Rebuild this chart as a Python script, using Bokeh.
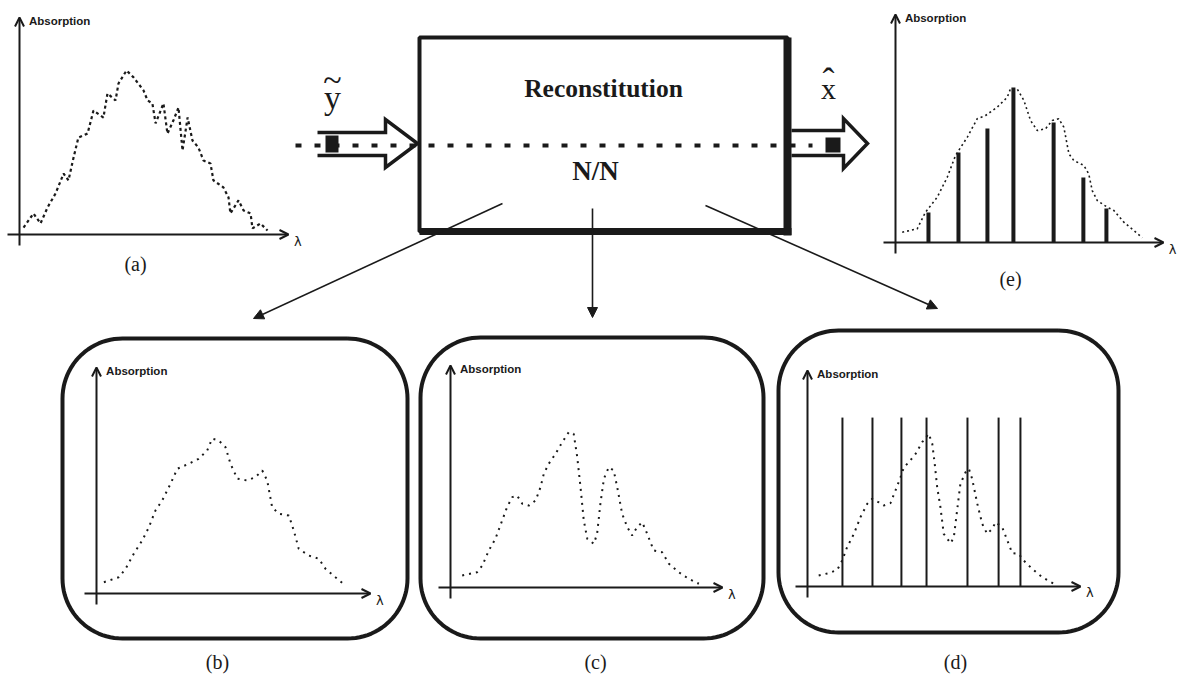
import numpy as np
from bokeh.plotting import figure
from bokeh.models import Range1d, Arrow, OpenHead, NormalHead
from bokeh.embed import file_html
from bokeh.resources import INLINE
from bokeh.core.properties import value

# ---------------- data (panel units: x 0..100 along lambda axis, y 0..100 absorption) -------------
a_x = [1.5, 5.2, 7.8, 10.4, 13.4, 16.4, 18.2, 20.1, 21.9, 25.3, 27.5, 31.2, 32.7, 35.7, 36.8, 39.8,
       42.4, 46.1, 47.6, 49.4, 50.6, 53.5, 55.0, 57.2, 59.1, 60.6, 62.5, 64.3, 66.5, 68.4, 71.0,
       72.1, 75.8, 77.7, 78.4, 81.4, 83.3, 85.9, 86.6, 89.6, 92.2]
a_y = [3.2, 9.7, 5.1, 12.4, 18.9, 28.1, 24.9, 35.5, 44.7, 46.5, 57.1, 53.9, 65.0, 61.8, 69.6, 75.6,
       72.4, 66.4, 61.8, 60.4, 51.2, 60.4, 46.5, 52.5, 58.5, 38.7, 53.9, 43.3, 40.1, 34.1, 32.7,
       24.9, 21.7, 17.1, 9.7, 15.7, 11.1, 9.7, 2.8, 5.1, 1.8]

b_x = [2.7, 8.1, 10.6, 13.6, 16.7, 19.1, 21.5, 24.0, 27.0, 29.5, 33.7, 37.3, 40.4, 42.2, 44.6, 47.1,
       48.9, 51.4, 55.0, 58.0, 60.5, 62.3, 64.1, 66.5, 70.2, 72.0, 73.8, 77.5, 81.1, 83.6, 87.2, 90.9]
b_y = [5.0, 7.2, 10.9, 17.6, 23.5, 29.3, 36.7, 41.2, 48.5, 55.2, 57.4, 59.6, 63.3, 68.5, 67.7, 64.7,
       57.4, 50.8, 50.0, 51.5, 54.4, 50.0, 38.2, 35.3, 34.5, 27.9, 19.8, 16.8, 15.4, 10.9, 7.2, 3.5]

c_x = [4.3, 9.8, 11.7, 14.1, 16.5, 19.0, 20.8, 22.7, 24.5, 26.4, 28.8, 31.3, 33.1, 34.3, 36.1, 38.6,
       41.1, 43.5, 45.3, 46.6, 47.8, 49.0, 50.3, 52.7, 53.9, 55.1, 56.4, 58.2, 60.0, 61.3, 63.1, 65.0,
       66.8, 68.6, 70.5, 72.3, 74.7, 77.8, 80.3, 83.9, 87.6, 91.3]
c_y = [5.4, 6.9, 9.9, 16.7, 21.9, 30.2, 36.2, 40.7, 41.4, 37.7, 36.9, 39.2, 45.2, 51.2, 55.7, 60.2,
       65.5, 70.0, 69.2, 58.7, 45.2, 30.2, 21.9, 19.7, 24.2, 37.7, 49.0, 54.2, 52.7, 45.2, 33.2, 27.2,
       23.4, 27.2, 29.4, 24.2, 16.7, 15.9, 10.7, 6.9, 3.9, 1.7]

d_x = [4.1, 7.8, 10.9, 12.7, 14.5, 17.0, 19.4, 21.9, 23.7, 26.1, 27.9, 30.4, 32.2, 34.1, 35.3, 37.1,
       39.6, 42.0, 44.4, 45.7, 46.6, 47.5, 48.7, 49.9, 52.4, 53.6, 54.8, 56.0, 57.9, 59.1, 60.3, 62.2,
       64.0, 65.8, 67.7, 68.9, 71.3, 73.2, 75.0, 77.4, 79.2, 82.3, 86.0, 90.2]
d_y = [5.1, 6.2, 7.7, 12.0, 18.2, 24.4, 32.1, 38.3, 40.6, 39.0, 37.5, 38.6, 44.4, 50.6, 55.2, 57.5,
       61.4, 66.8, 70.7, 66.1, 56.8, 46.0, 36.7, 24.4, 20.0, 22.8, 35.2, 47.5, 52.9, 54.5, 49.9, 38.3,
       29.0, 24.4, 26.7, 29.8, 27.5, 21.3, 15.4, 15.1, 12.0, 8.2, 4.3, 1.3]
d_lines_x = [12.8, 23.8, 34.4, 43.6, 58.6, 70.0, 78.0]
d_lines_top = [78.2, 78.2, 78.2, 78.2, 78.2, 78.2, 78.2]

e_x = [2.5, 8.1, 11.2, 15.6, 19.3, 22.4, 26.8, 30.5, 33.6, 37.9, 41.7, 42.9, 45.4, 47.9, 50.4, 52.9,
       56.0, 58.5, 60.9, 62.8, 64.7, 66.5, 70.3, 72.1, 73.4, 75.3, 79.0, 81.5, 85.2, 88.9, 92.1]
e_y = [4.5, 6.0, 13.3, 19.9, 28.6, 38.2, 46.2, 54.3, 55.7, 59.3, 63.7, 67.4, 67.4, 62.3, 53.5, 49.1,
       49.9, 53.5, 54.3, 50.6, 38.9, 36.0, 33.8, 30.1, 22.8, 18.4, 15.5, 14.0, 8.9, 5.3, 2.1]
e_bars_x = [12.3, 23.5, 34.3, 44.0, 59.0, 70.1, 78.7]
e_bars_y = [13.2, 39.5, 50.0, 68.0, 52.6, 28.5, 14.9]

panel_labels = ["(a)", "(b)", "(c)", "(d)", "(e)"]
axis_y_title = "Absorption"
axis_x_title = "λ"
box_title = "Reconstitution"
box_sub = "N/N"

# ---------------- layout (pixels, y downward) ----------------
W, H = 1178, 678
INK = "#1a1a1a"
panels = {
    "a": dict(ox=19, oy=234, w=269, h=217, lab=(135, 263)),
    "b": dict(ox=96, oy=593, w=274, h=226, lab=(217, 661), frame=(62, 338, 407, 638)),
    "c": dict(ox=450, oy=587, w=272, h=222, lab=(595, 661), frame=(420, 337, 763, 638)),
    "d": dict(ox=807, oy=586, w=273, h=216, lab=(955, 661), frame=(778, 330, 1118, 632)),
    "e": dict(ox=895, oy=242, w=268, h=228, lab=(1010, 278)),
}

p = figure(width=W, height=H, x_range=Range1d(0, W), y_range=Range1d(H, 0),
           output_backend="svg", toolbar_location=None, min_border=0,
           x_axis_location=None, y_axis_location=None)
p.grid.visible = False
p.outline_line_color = None
p.background_fill_color = "white"
p.border_fill_color = "white"

# per-panel scales
for k, g in panels.items():
    p.extra_x_ranges["x" + k] = Range1d(-g["ox"] * 100.0 / g["w"], (W - g["ox"]) * 100.0 / g["w"])
    p.extra_y_ranges["y" + k] = Range1d((g["oy"] - H) * 100.0 / g["h"], g["oy"] * 100.0 / g["h"])


def kw(k):
    return dict(x_range_name="x" + k, y_range_name="y" + k)


def rounded(x0, y0, x1, y1, r, n=24):
    xs, ys = [], []
    for cx, cy, a0, a1 in [(x1 - r, y0 + r, -90, 0), (x1 - r, y1 - r, 0, 90),
                           (x0 + r, y1 - r, 90, 180), (x0 + r, y0 + r, 180, 270)]:
        t = np.radians(np.linspace(a0, a1, n))
        xs += list(cx + r * np.cos(t))
        ys += list(cy + r * np.sin(t))
    xs.append(xs[0]); ys.append(ys[0])
    return xs, ys


serif = value("Liberation Serif")
sans = value("Liberation Sans")

for k, g in panels.items():
    # frames
    if "frame" in g:
        fx, fy = rounded(*g["frame"], r=60)
        p.line(fx, fy, line_color=INK, line_width=4, line_join="round")
    ext_x = 12 * 100.0 / g["w"]
    ext_y = 11 * 100.0 / g["h"]
    p.add_layout(Arrow(end=OpenHead(size=9, line_width=2, line_color=INK), x_start=-ext_x, y_start=0,
                       x_end=100, y_end=0, line_width=2, line_color=INK, **kw(k)))
    p.add_layout(Arrow(end=OpenHead(size=9, line_width=2, line_color=INK), x_start=0, y_start=-ext_y,
                       x_end=0, y_end=100, line_width=2, line_color=INK, **kw(k)))
    p.text(x=[3.5], y=[98.5], text=[axis_y_title], text_font=sans, text_font_style="bold",
           text_font_size="11.5px", text_baseline="middle", text_align="left", text_color=INK, **kw(k))
    p.text(x=[102], y=[-3], text=[axis_x_title], text_font=value("DejaVu Sans"),
           text_font_size="13px", text_baseline="middle", text_align="left", text_color=INK, **kw(k))

labels_xy = [panels[k]["lab"] for k in "abcde"]
p.text(x=[l[0] for l in labels_xy], y=[l[1] for l in labels_xy], text=panel_labels, text_font=serif,
       text_font_size="20px", text_align="center", text_baseline="middle", text_color=INK)

# curves
p.line(a_x, a_y, line_color=INK, line_width=2.2, line_dash="3 3", **kw("a"))
p.line(b_x, b_y, line_color=INK, line_width=2, line_dash="2 5", **kw("b"))
p.line(c_x, c_y, line_color=INK, line_width=2, line_dash="2 5", **kw("c"))
p.line(d_x, d_y, line_color=INK, line_width=2, line_dash="2 5", **kw("d"))
p.segment(x0=d_lines_x, y0=[0] * len(d_lines_x), x1=d_lines_x, y1=d_lines_top,
          line_color=INK, line_width=2, **kw("d"))
p.line(e_x, e_y, line_color=INK, line_width=1.6, line_dash="2 3", **kw("e"))
p.segment(x0=e_bars_x, y0=[0] * len(e_bars_x), x1=e_bars_x, y1=e_bars_y,
          line_color=INK, line_width=4, **kw("e"))

# central box
p.quad(left=[419], right=[787], top=[37], bottom=[231], fill_color="white",
       line_color=INK, line_width=4)
p.line([787, 787], [37, 235], line_color=INK, line_width=8)
p.line([419, 791], [231, 231], line_color=INK, line_width=7)
p.text(x=[603], y=[88], text=[box_title], text_font=serif, text_font_style="bold",
       text_font_size="25.5px", text_align="center", text_baseline="middle", text_color=INK)
p.text(x=[595], y=[170], text=[box_sub], text_font=serif, text_font_style="bold",
       text_font_size="27px", text_align="center", text_baseline="middle", text_color=INK)

# dashed signal line
p.line([295, 812], [145, 145], line_color=INK, line_width=4, line_dash="6 13")

# hollow block arrows
p.line([317, 385, 385, 417, 385, 385, 317], [132, 132, 119, 143, 167, 155, 155],
       line_color=INK, line_width=3.5, line_join="miter")
p.quad(left=[325], right=[338], top=[135], bottom=[152], fill_color=INK, line_color=None)
p.line([791, 843, 843, 867, 843, 843, 791], [130, 130, 118, 143, 168, 155, 155],
       line_color=INK, line_width=3.5, line_join="miter")
p.quad(left=[825], right=[840], top=[137], bottom=[152], fill_color=INK, line_color=None)

# input / output symbols
p.text(x=[332], y=[97], text=["y"], text_font=serif, text_font_size="34px",
       text_align="center", text_baseline="alphabetic", text_color=INK)
p.text(x=[332], y=[79], text=["~"], text_font=serif, text_font_size="34px",
       text_align="center", text_baseline="alphabetic", text_color=INK)
p.text(x=[828], y=[88], text=["x"], text_font=serif, text_font_size="30px",
       text_align="center", text_baseline="alphabetic", text_color=INK)
p.text(x=[828], y=[80], text=["ˆ"], text_font=serif, text_font_size="36px",
       text_align="center", text_baseline="alphabetic", text_color=INK)

# arrows from box to the three panels
for xs, ys, xe, ye in [(502, 203, 253, 318), (592, 208, 592, 317), (705, 205, 937, 308)]:
    p.add_layout(Arrow(end=NormalHead(size=10, fill_color=INK, line_color=INK), x_start=xs, y_start=ys,
                       x_end=xe, y_end=ye, line_width=1.6, line_color=INK))

open("out.html", "w").write(file_html(p, INLINE))
